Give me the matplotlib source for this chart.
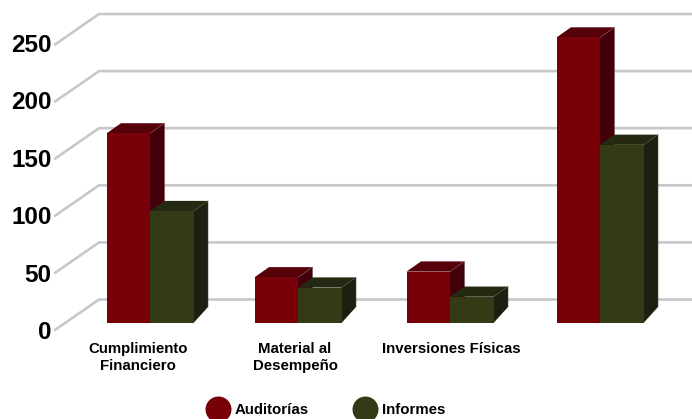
import matplotlib
matplotlib.use("Agg")
import matplotlib.pyplot as plt
from matplotlib.patches import Polygon

plt.rcParams['font.family'] = ['Liberation Sans', 'DejaVu Sans']

categories = ["Cumplimiento\nFinanciero", "Material al\nDesempeño", "Inversiones Físicas", ""]
auditorias = [166, 40, 45, 250]
informes = [98, 31, 23, 156]
series_names = ["Auditorías", "Informes"]
y_ticks = [0, 50, 100, 150, 200, 250]

W, H = 692, 419
PX_PER_VAL = 1.142
PX_PER_CAT = 150.0
BASE_PX = 323.0
BAR_W = 43.5 / PX_PER_CAT
DX = 14.5 / PX_PER_CAT
DY_TOP = 10.2 / PX_PER_VAL
DY_BASE = 16.0 / PX_PER_VAL
GROUP_SHIFT_PX = [0, -2, 0, 0]

COL = {
    0: dict(front="#780008", side="#43000a", top="#56000a", edge="#7a4a4e"),
    1: dict(front="#333a15", side="#1c2010", top="#242a11", edge="#484c38"),
}

fig = plt.figure(figsize=(W / 100, H / 100), dpi=100, facecolor="white")
ax = fig.add_axes([0, 0, 1, 1])
ax.set_xlim(-150 / PX_PER_CAT, (W - 150) / PX_PER_CAT)
ax.set_ylim(-(H - BASE_PX) / PX_PER_VAL, BASE_PX / PX_PER_VAL)
ax.axis("off")


def px(x, y):
    """pixel position (top-left origin) to figure fraction"""
    return x / W, 1 - y / H


# gridlines: back wall plus the slanted floor/wall return
x_front = (55 - 150) / PX_PER_CAT
x_back = (99 - 150) / PX_PER_CAT
x_end = (W - 150) / PX_PER_CAT
front_off = -7 / PX_PER_VAL
back_off = 23.5 / PX_PER_VAL
for v in y_ticks:
    ax.plot([x_front, x_back, x_end],
            [v + front_off, v + back_off, v + back_off],
            color="#c8c8cc", lw=1.9, zorder=1, solid_capstyle="round",
            solid_joinstyle="miter")
    # tick labels are spaced slightly wider than the gridlines
    ax.text(51.5 / PX_PER_CAT - 1, v * 1.007 + front_off - 2.5, str(v), ha="right",
            va="center", fontsize=17.5, fontweight="bold", color="black", zorder=6)


def bar3d(x0, v, c, z):
    x1 = x0 + BAR_W
    ax.add_patch(Polygon([(x1, 0), (x1 + DX, DY_BASE), (x1 + DX, v + DY_TOP), (x1, v)],
                         closed=True, facecolor=c["side"], edgecolor="none", zorder=z))
    ax.add_patch(Polygon([(x0, v), (x0 + DX, v + DY_TOP), (x1 + DX, v + DY_TOP), (x1, v)],
                         closed=True, facecolor=c["top"], edgecolor="none", zorder=z))
    ax.plot([x1, x1 + DX, x1 + DX], [v, v + DY_TOP, DY_BASE], color=c["edge"],
            lw=0.4, zorder=z + 0.1)
    ax.bar(x0, v, width=BAR_W, align="edge", color=c["front"], linewidth=0, zorder=z + 0.2)


for i, (a, b) in enumerate(zip(auditorias, informes)):
    g = i + GROUP_SHIFT_PX[i] / PX_PER_CAT
    bar3d(g - BAR_W, a, COL[0], 2 + i)
    bar3d(g, b, COL[1], 2.5 + i)

# category labels
label_px = [138, 295, 451, 600]
for lab, lx in zip(categories, label_px):
    if lab:
        x, y = px(lx, 342)
        fig.text(x, y, lab, ha="center", va="top", fontsize=10.8, fontweight="bold",
                 color="black", linespacing=1.28)

# legend
for name, cx, tx, k in zip(series_names, [218, 365], [235, 382], [0, 1]):
    x, y = px(cx, 409)
    ax.scatter([x], [y], s=350, color=COL[k]["front"], linewidths=0,
               transform=fig.transFigure, zorder=8, clip_on=True)
    x, y = px(tx, 410)
    fig.text(x, y, name, ha="left", va="center", fontsize=10.8, fontweight="bold",
             color="black")

fig.savefig("out.png", dpi=100, facecolor="white")
